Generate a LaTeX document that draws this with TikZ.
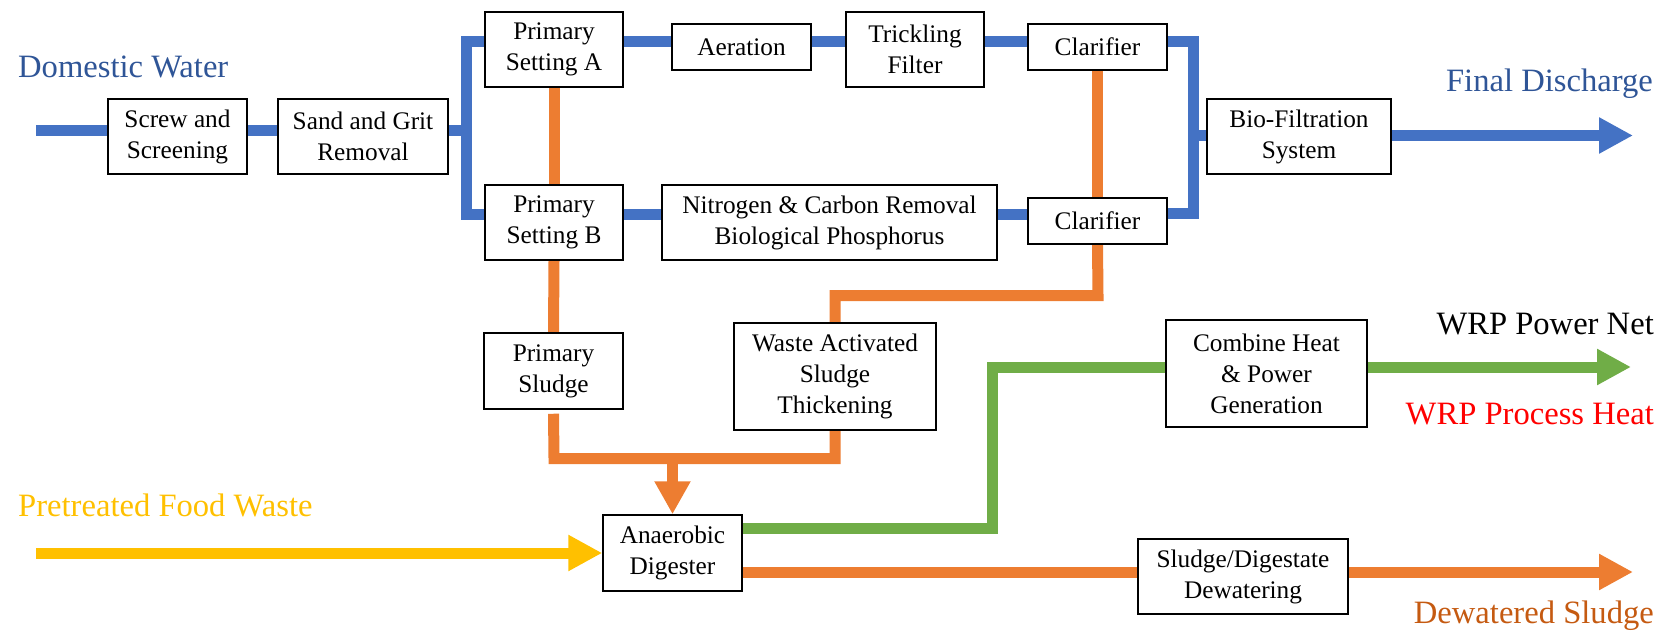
\documentclass[tikz,border=0pt]{standalone}
\usepackage{fontspec}
\setmainfont{LiberationSerif}[Extension=.ttf, UprightFont=*-Regular, BoldFont=*-Bold]
\usetikzlibrary{arrows.meta,backgrounds,calc}
\definecolor{bl}{HTML}{4472C4}
\definecolor{orng}{HTML}{ED7D31}
\definecolor{grn}{HTML}{70AD47}
\definecolor{yel}{HTML}{FFC000}
\definecolor{dblue}{HTML}{2F5597}
\definecolor{dorng}{HTML}{C55A11}
\definecolor{rd}{HTML}{FF0000}
\tikzset{
  box/.style={draw, line width=1.5pt, fill=white, inner sep=0pt, align=center,
    font=\rmfamily\fontsize{25.3}{31}\selectfont},
  lbl/.style={inner sep=0pt, font=\rmfamily\fontsize{32.6}{38}\selectfont},
  flow/.style={line width=11pt, line join=miter},
  blueflow/.style={flow, draw=bl},
  oflow/.style={flow, draw=orng},
  gflow/.style={flow, draw=grn},
  yflow/.style={flow, draw=yel},
  bigtip/.style={-{Triangle[length=34pt,width=34pt]}},
}
\begin{document}
\begin{tikzpicture}[x=1pt,y=-1pt]
\useasboundingbox (0,0) rectangle (1660,631);
% boxes
\node[box, minimum width=139pt, minimum height=75pt] (screw) at (177.5,136.5) {Screw and\\Screening};
\node[box, minimum width=170pt, minimum height=75pt] (sand) at (363,136.5) {Sand and Grit\\Removal};
\node[box, minimum width=138pt, minimum height=75pt] (psa) at (554,49.5) {Primary\\Setting A};
\node[box, minimum width=138pt, minimum height=75pt] (psb) at (554,222.5) {Primary\\Setting B};
\node[box, minimum width=139pt, minimum height=46pt] (aer) at (741.5,47) {Aeration};
\node[box, minimum width=138pt, minimum height=75pt] (trk) at (915,49.5) {Trickling\\Filter};
\node[box, minimum width=139pt, minimum height=46pt] (clr1) at (1097.5,47) {Clarifier};
\node[box, minimum width=335pt, minimum height=75pt] (ncr) at (829.5,222.5) {Nitrogen \& Carbon Removal\\Biological Phosphorus};
\node[box, minimum width=139pt, minimum height=46pt] (clr2) at (1097.5,221) {Clarifier};
\node[box, minimum width=184pt, minimum height=75pt] (bio) at (1299,136.5) {Bio-Filtration\\System};
\node[box, minimum width=139pt, minimum height=76pt] (ps) at (553.5,371) {Primary\\Sludge};
\node[box, minimum width=202pt, minimum height=107pt] (was) at (835,376.5) {Waste Activated\\Sludge\\Thickening};
\node[box, minimum width=139pt, minimum height=76pt] (ad) at (672.5,553) {Anaerobic\\Digester};
\node[box, minimum width=201pt, minimum height=107pt] (chp) at (1266.5,373.5) {Combine Heat\\\& Power\\Generation};
\node[box, minimum width=210pt, minimum height=75pt] (sdw) at (1243,576.5) {Sludge/Digestate\\Dewatering};
% labels
\node[lbl, text=dblue, anchor=base west] (dwl) at (18,78) {Domestic Water};
\node[lbl, text=dblue, anchor=base east] (fdl) at (1653,92) {Final Discharge};
\node[lbl, text=black, anchor=base east] (wpn) at (1654,334) {WRP Power Net};
\node[lbl, text=rd, anchor=base east] (wph) at (1654,424) {WRP Process Heat};
\node[lbl, text=yel, anchor=base west] (pfw) at (18,516) {Pretreated Food Waste};
\node[lbl, text=dorng, anchor=base east] (dsl) at (1654,623) {Dewatered Sludge};
% coordinates
\coordinate (dwin) at (36,130.5);
\coordinate (j1) at (466,130.5);
\coordinate (ja) at (466,42);
\coordinate (jb) at (466,215);
\coordinate (ka) at (1193,42);
\coordinate (kb) at (1193,214);
\coordinate (kc) at (1193,135.5);
\coordinate (fd) at (1633,135.5);
\coordinate (oc) at (1098,295.5);
\coordinate (ob) at (554,458.5);
\coordinate (o2) at (742,572);
\coordinate (dsend) at (1633,572);
\coordinate (g1) at (992,528);
\coordinate (g2) at (992,367);
\coordinate (pn) at (1631,367);
\coordinate (fw) at (36,553);
\begin{scope}[on background layer]
% blue
\draw[blueflow] (dwin) -- (dwin -| screw.west);
\draw[blueflow] (screw.east |- dwin) -- (sand.west |- dwin);
\draw[blueflow] (sand.east |- j1) -- (j1);
\draw[blueflow] (psa.west |- ja) -- (ja) -- (jb) -- (psb.west |- jb);
\draw[blueflow] (psa.east |- ja) -- (aer.west |- ja);
\draw[blueflow] (aer.east |- ja) -- (trk.west |- ja);
\draw[blueflow] (trk.east |- ja) -- (clr1.west |- ja);
\draw[blueflow] (clr1.east |- ka) -- (ka) -- (kb) -- (clr2.east |- kb);
\draw[blueflow] (kc) -- (bio.west |- kc);
\draw[blueflow, bigtip] (bio.east |- fd) -- (fd);
\draw[blueflow] (psb.east |- jb) -- (ncr.west |- jb);
\draw[blueflow] (ncr.east |- jb) -- (clr2.west |- jb);
% orange
\draw[oflow] (psa.south) -- (psb.north);
\draw[oflow] (psb.south) -- (ps.north);
\draw[oflow] (clr1.south) -- (clr2.north);
\draw[oflow] (clr2.south) -- (oc) -- (oc -| was.north) -- (was.north);
\draw[oflow] ([yshift=-4pt]ps.south) -- (ob) -- (ob -| was.south) -- (was.south);
\draw[oflow, -{Triangle[length=33pt,width=34pt]}] (ob -| ad.north) -- (ad.north);
\draw[oflow] (ad.east |- o2) -- (sdw.west |- o2);
\draw[oflow, bigtip] (sdw.east |- dsend) -- (dsend);
% green
\draw[gflow] (ad.east |- g1) -- (g1) -- (g2) -- (chp.west |- g2);
\draw[gflow, bigtip] (chp.east |- pn) -- (pn);
% yellow
\draw[yflow, bigtip] (fw) -- (ad.west |- fw);
\end{scope}
\end{tikzpicture}
\end{document}
